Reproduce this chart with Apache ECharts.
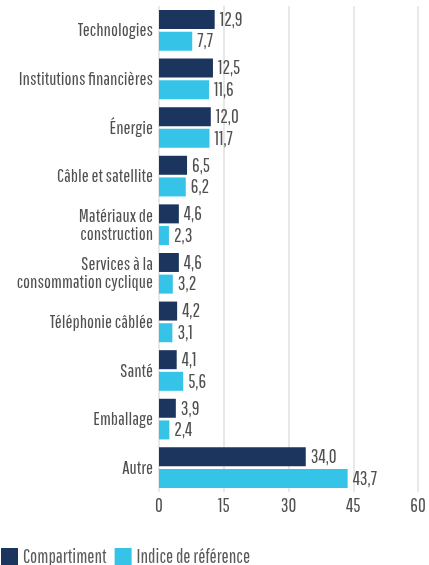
<!DOCTYPE html>
<html>
<head>
<meta charset="utf-8">
<script src="https://cdn.jsdelivr.net/npm/echarts@6/dist/echarts.min.js"></script>
<style>
  html, body { margin: 0; padding: 0; background: #fff; }
  #chart { width: 429px; height: 565px; }
</style>
</head>
<body>
<div id="chart"></div>
<script>
  var categories = ['Technologies', 'Institutions financières', 'Énergie', 'Câble et satellite',
    'Matériaux de\nconstruction', 'Services à la\nconsommation cyclique', 'Téléphonie câblée',
    'Santé', 'Emballage', 'Autre'];
  var fundValues = [12.9, 12.5, 12.0, 6.5, 4.6, 4.6, 4.2, 4.1, 3.9, 34.0];
  var indexValues = [7.7, 11.6, 11.7, 6.2, 2.3, 3.2, 3.1, 5.6, 2.4, 43.7];
  var seriesNames = ['Compartiment', 'Indice de référence'];
  var xTicks = [0, 15, 30, 45, 60];

  var font = '"Pathway Gothic One", "Roboto Condensed", sans-serif';
  var textColor = '#505050';

  function fmt(v) {
    return v.toFixed(1).replace('.', ',');
  }

  var myChart = echarts.init(document.getElementById('chart'));
  var option = {
    animation: false,
    textStyle: { fontFamily: font },
    grid: { left: 159, right: 11, top: 6, bottom: 73, outerBoundsMode: 'none', containLabel: false },
    legend: {
      left: -4,
      top: 542,
      itemWidth: 17,
      itemHeight: 17,
      itemGap: 8,
      icon: 'rect',
      textStyle: { fontFamily: font, fontSize: 19, color: '#5a5a5a' },
      data: seriesNames
    },
    xAxis: {
      type: 'value',
      min: xTicks[0],
      max: xTicks[xTicks.length - 1],
      interval: 15,
      axisLine: { show: false },
      axisTick: { show: false },
      axisLabel: { color: textColor, fontSize: 19, fontFamily: font, margin: 4 },
      splitLine: { show: true, lineStyle: { color: '#e8e8e8', width: 2 } }
    },
    yAxis: {
      type: 'category',
      inverse: true,
      data: categories,
      axisLine: { show: false },
      axisTick: { show: false },
      axisLabel: { color: textColor, fontSize: 18.5, fontFamily: font, margin: 6, lineHeight: 18, align: 'right' }
    },
    series: [
      {
        name: seriesNames[0],
        type: 'bar',
        data: fundValues,
        barWidth: 19,
        barGap: '14%',
        itemStyle: { color: '#1b355e' },
        label: { show: true, position: 'right', distance: 5, color: textColor, fontSize: 19, fontFamily: font,
          formatter: function (p) { return fmt(p.value); } }
      },
      {
        name: seriesNames[1],
        type: 'bar',
        data: indexValues,
        barWidth: 19,
        itemStyle: { color: '#35c4e8' },
        label: { show: true, position: 'right', distance: 5, color: textColor, fontSize: 19, fontFamily: font,
          formatter: function (p) { return fmt(p.value); } }
      }
    ]
  };
  myChart.setOption(option);
</script>
</body>
</html>
